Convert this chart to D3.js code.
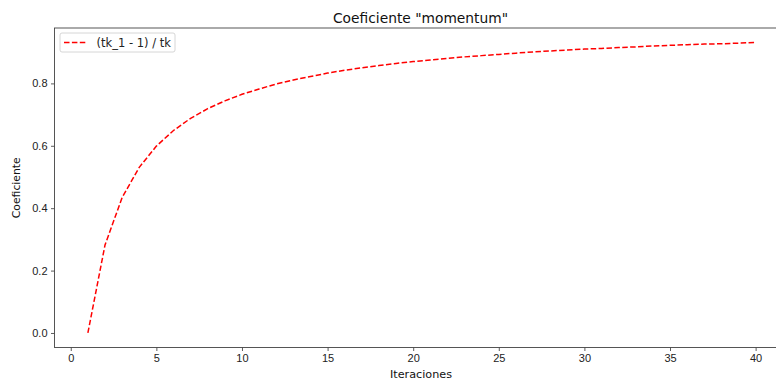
<!DOCTYPE html>
<html>
<head>
<meta charset="utf-8">
<script src="https://cdn.jsdelivr.net/npm/d3@7"></script>
<style>
  body { margin: 0; background: #fff; }
  svg { font-family: "DejaVu Sans", sans-serif; display: block; }
</style>
</head>
<body>
<div id="chart"></div>
<script>
const WIDTH = 776;
const HEIGHT = 381;
const MARGINS = { left: 54.5, right: -13, top: 28, bottom: 33.5 };

// iterations and coefficient values
const iterations = d3.range(1, 41);
const coefValues = [0, 0.282, 0.434, 0.531, 0.599, 0.649, 0.688, 0.719, 0.744, 0.765,
  0.782, 0.798, 0.811, 0.822, 0.833, 0.842, 0.850, 0.857, 0.864, 0.870,
  0.875, 0.880, 0.885, 0.889, 0.893, 0.897, 0.901, 0.904, 0.907, 0.910,
  0.912, 0.915, 0.917, 0.920, 0.922, 0.924, 0.926, 0.927, 0.929, 0.931];
const xTicks = [0, 5, 10, 15, 20, 25, 30, 35, 40];
const yTicks = [0.0, 0.2, 0.4, 0.6, 0.8];
const seriesLabel = "(tk_1 - 1) / tk";

const data = iterations.map((k, i) => ({ x: k, y: coefValues[i] }));

let svg = d3.select("#chart").append("svg")
  .attr("width", WIDTH)
  .attr("height", HEIGHT);

// matplotlib-like 5% margins
let xPad = (40 - 1) * 0.05;
let yPad = (d3.max(coefValues) - 0) * 0.05;

let x = d3.scaleLinear()
  .domain([1 - xPad, 40 + xPad])
  .range([MARGINS.left, WIDTH - MARGINS.right]);
let y = d3.scaleLinear()
  .domain([0 - yPad, d3.max(coefValues) + yPad])
  .range([HEIGHT - MARGINS.bottom, MARGINS.top]);

// line
let line = d3.line().x(d => x(d.x)).y(d => y(d.y));
svg.append("path")
  .datum(data)
  .attr("d", line)
  .attr("fill", "none")
  .attr("stroke", "#ff0000")
  .attr("stroke-width", 1.5)
  .attr("stroke-dasharray", "5.5,2.4");

// axes
let xAxis = svg.append("g")
  .attr("transform", "translate(0," + (HEIGHT - MARGINS.bottom) + ")")
  .call(d3.axisBottom(x).tickValues(xTicks).tickSize(3.5).tickPadding(3.5).tickFormat(d3.format("d")));
let yAxis = svg.append("g")
  .attr("transform", "translate(" + MARGINS.left + ",0)")
  .call(d3.axisLeft(y).tickValues(yTicks).tickSize(3.5).tickPadding(3.5).tickFormat(d3.format(".1f")));

[xAxis, yAxis].forEach(g => {
  g.select(".domain").remove();
  g.selectAll(".tick line").attr("stroke", "#333").attr("stroke-width", 0.8);
  g.selectAll(".tick text").attr("fill", "#222").style("font-size", "11px");
});

// frame (right side is cut off by the picture edge)
svg.append("rect")
  .attr("x", MARGINS.left)
  .attr("y", MARGINS.top)
  .attr("width", x.range()[1] - MARGINS.left)
  .attr("height", HEIGHT - MARGINS.bottom - MARGINS.top)
  .attr("fill", "none")
  .attr("stroke", "#444")
  .attr("stroke-width", 0.9);

// title and labels
svg.append("text")
  .attr("x", 420.5)
  .attr("y", 23)
  .attr("text-anchor", "middle")
  .attr("fill", "#111")
  .style("font-size", "13.8px")
  .text("Coeficiente \"momentum\"");

svg.append("text")
  .attr("x", 421)
  .attr("y", 377.5)
  .attr("text-anchor", "middle")
  .attr("fill", "#111")
  .style("font-size", "11.2px")
  .text("Iteraciones");

svg.append("text")
  .attr("transform", "translate(20," + ((MARGINS.top + HEIGHT - MARGINS.bottom) / 2) + ") rotate(-90)")
  .attr("text-anchor", "middle")
  .attr("fill", "#111")
  .style("font-size", "10.8px")
  .text("Coeficiente");

// legend
let legend = svg.append("g").attr("transform", "translate(60,33)");
legend.append("rect")
  .attr("width", 115)
  .attr("height", 19)
  .attr("rx", 2)
  .attr("fill", "#fff")
  .attr("stroke", "#ccc")
  .attr("stroke-width", 0.8);
legend.append("line")
  .attr("x1", 4).attr("x2", 27)
  .attr("y1", 9.5).attr("y2", 9.5)
  .attr("stroke", "#ff0000")
  .attr("stroke-width", 1.5)
  .attr("stroke-dasharray", "5.5,2.4");
legend.append("text")
  .attr("x", 36.5)
  .attr("y", 13.8)
  .attr("fill", "#222")
  .style("font-size", "11.5px")
  .text(seriesLabel);
</script>
</body>
</html>
